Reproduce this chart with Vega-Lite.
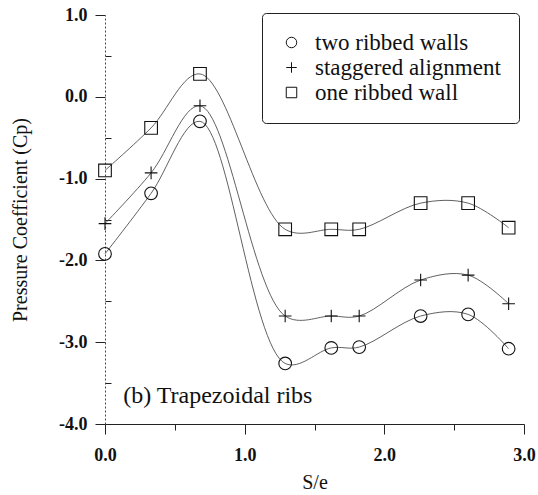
{
  "$schema": "https://vega.github.io/schema/vega-lite/v6.json",
  "autosize": {"type": "none"},
  "padding": {"left": 105, "top": 15, "right": 14, "bottom": 71},
  "width": 419,
  "height": 409,
  "background": "white",
  "config": {
    "view": {"stroke": null},
    "font": "Liberation Serif, DejaVu Serif, serif"
  },
  "data": {
    "values": [
      {"series": "two ribbed walls", "x": 0.0, "cp": -1.92},
      {"series": "two ribbed walls", "x": 0.33, "cp": -1.18},
      {"series": "two ribbed walls", "x": 0.68, "cp": -0.3},
      {"series": "two ribbed walls", "x": 1.29, "cp": -3.26},
      {"series": "two ribbed walls", "x": 1.62, "cp": -3.07},
      {"series": "two ribbed walls", "x": 1.82, "cp": -3.06},
      {"series": "two ribbed walls", "x": 2.26, "cp": -2.68},
      {"series": "two ribbed walls", "x": 2.6, "cp": -2.66},
      {"series": "two ribbed walls", "x": 2.89, "cp": -3.08},
      {"series": "staggered alignment", "x": 0.0, "cp": -1.55},
      {"series": "staggered alignment", "x": 0.33, "cp": -0.93},
      {"series": "staggered alignment", "x": 0.68, "cp": -0.11},
      {"series": "staggered alignment", "x": 1.29, "cp": -2.68},
      {"series": "staggered alignment", "x": 1.62, "cp": -2.68},
      {"series": "staggered alignment", "x": 1.82, "cp": -2.68},
      {"series": "staggered alignment", "x": 2.26, "cp": -2.24},
      {"series": "staggered alignment", "x": 2.6, "cp": -2.18},
      {"series": "staggered alignment", "x": 2.89, "cp": -2.53},
      {"series": "one ribbed wall", "x": 0.0, "cp": -0.9},
      {"series": "one ribbed wall", "x": 0.33, "cp": -0.38},
      {"series": "one ribbed wall", "x": 0.68, "cp": 0.28},
      {"series": "one ribbed wall", "x": 1.29, "cp": -1.62},
      {"series": "one ribbed wall", "x": 1.62, "cp": -1.62},
      {"series": "one ribbed wall", "x": 1.82, "cp": -1.62},
      {"series": "one ribbed wall", "x": 2.26, "cp": -1.3},
      {"series": "one ribbed wall", "x": 2.6, "cp": -1.3},
      {"series": "one ribbed wall", "x": 2.89, "cp": -1.6}
    ]
  },
  "layer": [
    {
      "mark": {"type": "line", "interpolate": "catmull-rom", "color": "#444", "strokeWidth": 0.85},
      "encoding": {
        "x": {"field": "x", "type": "quantitative"},
        "y": {"field": "cp", "type": "quantitative"},
        "detail": {"field": "series"}
      }
    },
    {
      "mark": {"type": "point", "filled": false, "color": "#111", "strokeWidth": 1.1, "opacity": 1},
      "encoding": {
        "x": {
          "field": "x", "type": "quantitative",
          "scale": {"domain": [0, 3], "nice": false, "zero": false},
          "axis": {
            "title": "S/e",
            "titleFont": "Liberation Serif, DejaVu Serif, serif", "titleFontSize": 20, "titleFontWeight": "normal", "titleColor": "#111",
            "titlePadding": 8,
            "values": [0, 0.5, 1, 1.5, 2, 2.5, 3],
            "labelExpr": "datum.value % 1 == 0 ? format(datum.value, '.1f') : ''",
            "labelFont": "Liberation Serif, DejaVu Serif, serif", "labelFontSize": 18, "labelColor": "#111", "labelFontWeight": "bold",
            "labelPadding": 12,
            "labelFlush": false,
            "grid": false,
            "domainColor": "#222", "domainWidth": 1.2,
            "tickColor": "#222",
            "tickSize": {"condition": {"test": "datum.value % 1 == 0", "value": 10}, "value": 6}
          }
        },
        "y": {
          "field": "cp", "type": "quantitative",
          "scale": {"domain": [-4, 1], "nice": false, "zero": false},
          "axis": {
            "title": "Pressure Coefficient (Cp)",
            "titleFont": "Liberation Serif, DejaVu Serif, serif", "titleFontSize": 20, "titleFontWeight": "normal", "titleColor": "#111",
            "titlePadding": 28,
            "values": [-4, -3.5, -3, -2.5, -2, -1.5, -1, -0.5, 0, 0.5, 1],
            "labelExpr": "datum.value % 1 == 0 ? replace(format(datum.value, '.1f'), '\u2212', '-') : ''",
            "labelFont": "Liberation Serif, DejaVu Serif, serif", "labelFontSize": 18, "labelColor": "#111", "labelFontWeight": "bold",
            "labelPadding": 8,
            "labelFlush": false,
            "grid": false,
            "domainColor": "#444", "domainDash": [2, 2], "domainWidth": 1,
            "tickColor": "#222",
            "tickSize": {"condition": {"test": "datum.value % 1 == 0", "value": 10}, "value": -6}
          }
        },
        "shape": {
          "field": "series", "type": "nominal",
          "scale": {
            "domain": ["two ribbed walls", "staggered alignment", "one ribbed wall"],
            "range": ["circle", "M-1,0H1M0,-1V1", "square"]
          },
          "legend": {
            "title": null,
            "orient": "none",
            "legendX": 157,
            "legendY": -2,
            "strokeColor": "#222",
            "cornerRadius": 4,
            "padding": 18,
            "labelFont": "Liberation Serif, DejaVu Serif, serif",
            "labelFontSize": 23,
            "labelColor": "#111",
            "labelOffset": 12,
            "symbolSize": 110,
            "symbolStrokeColor": "#111",
            "symbolStrokeWidth": 1,
            "symbolFillColor": "transparent",
            "rowPadding": 1,
            "labelLimit": 300
          }
        },
        "size": {"value": 160}
      }
    },
    {
      "data": {"values": [{}]},
      "mark": {"type": "text", "align": "left", "baseline": "middle", "font": "Liberation Serif, DejaVu Serif, serif", "fontSize": 24, "color": "#111"},
      "encoding": {
        "x": {"datum": 0.13},
        "y": {"datum": -3.66},
        "text": {"value": "(b) Trapezoidal ribs"}
      }
    }
  ]
}
